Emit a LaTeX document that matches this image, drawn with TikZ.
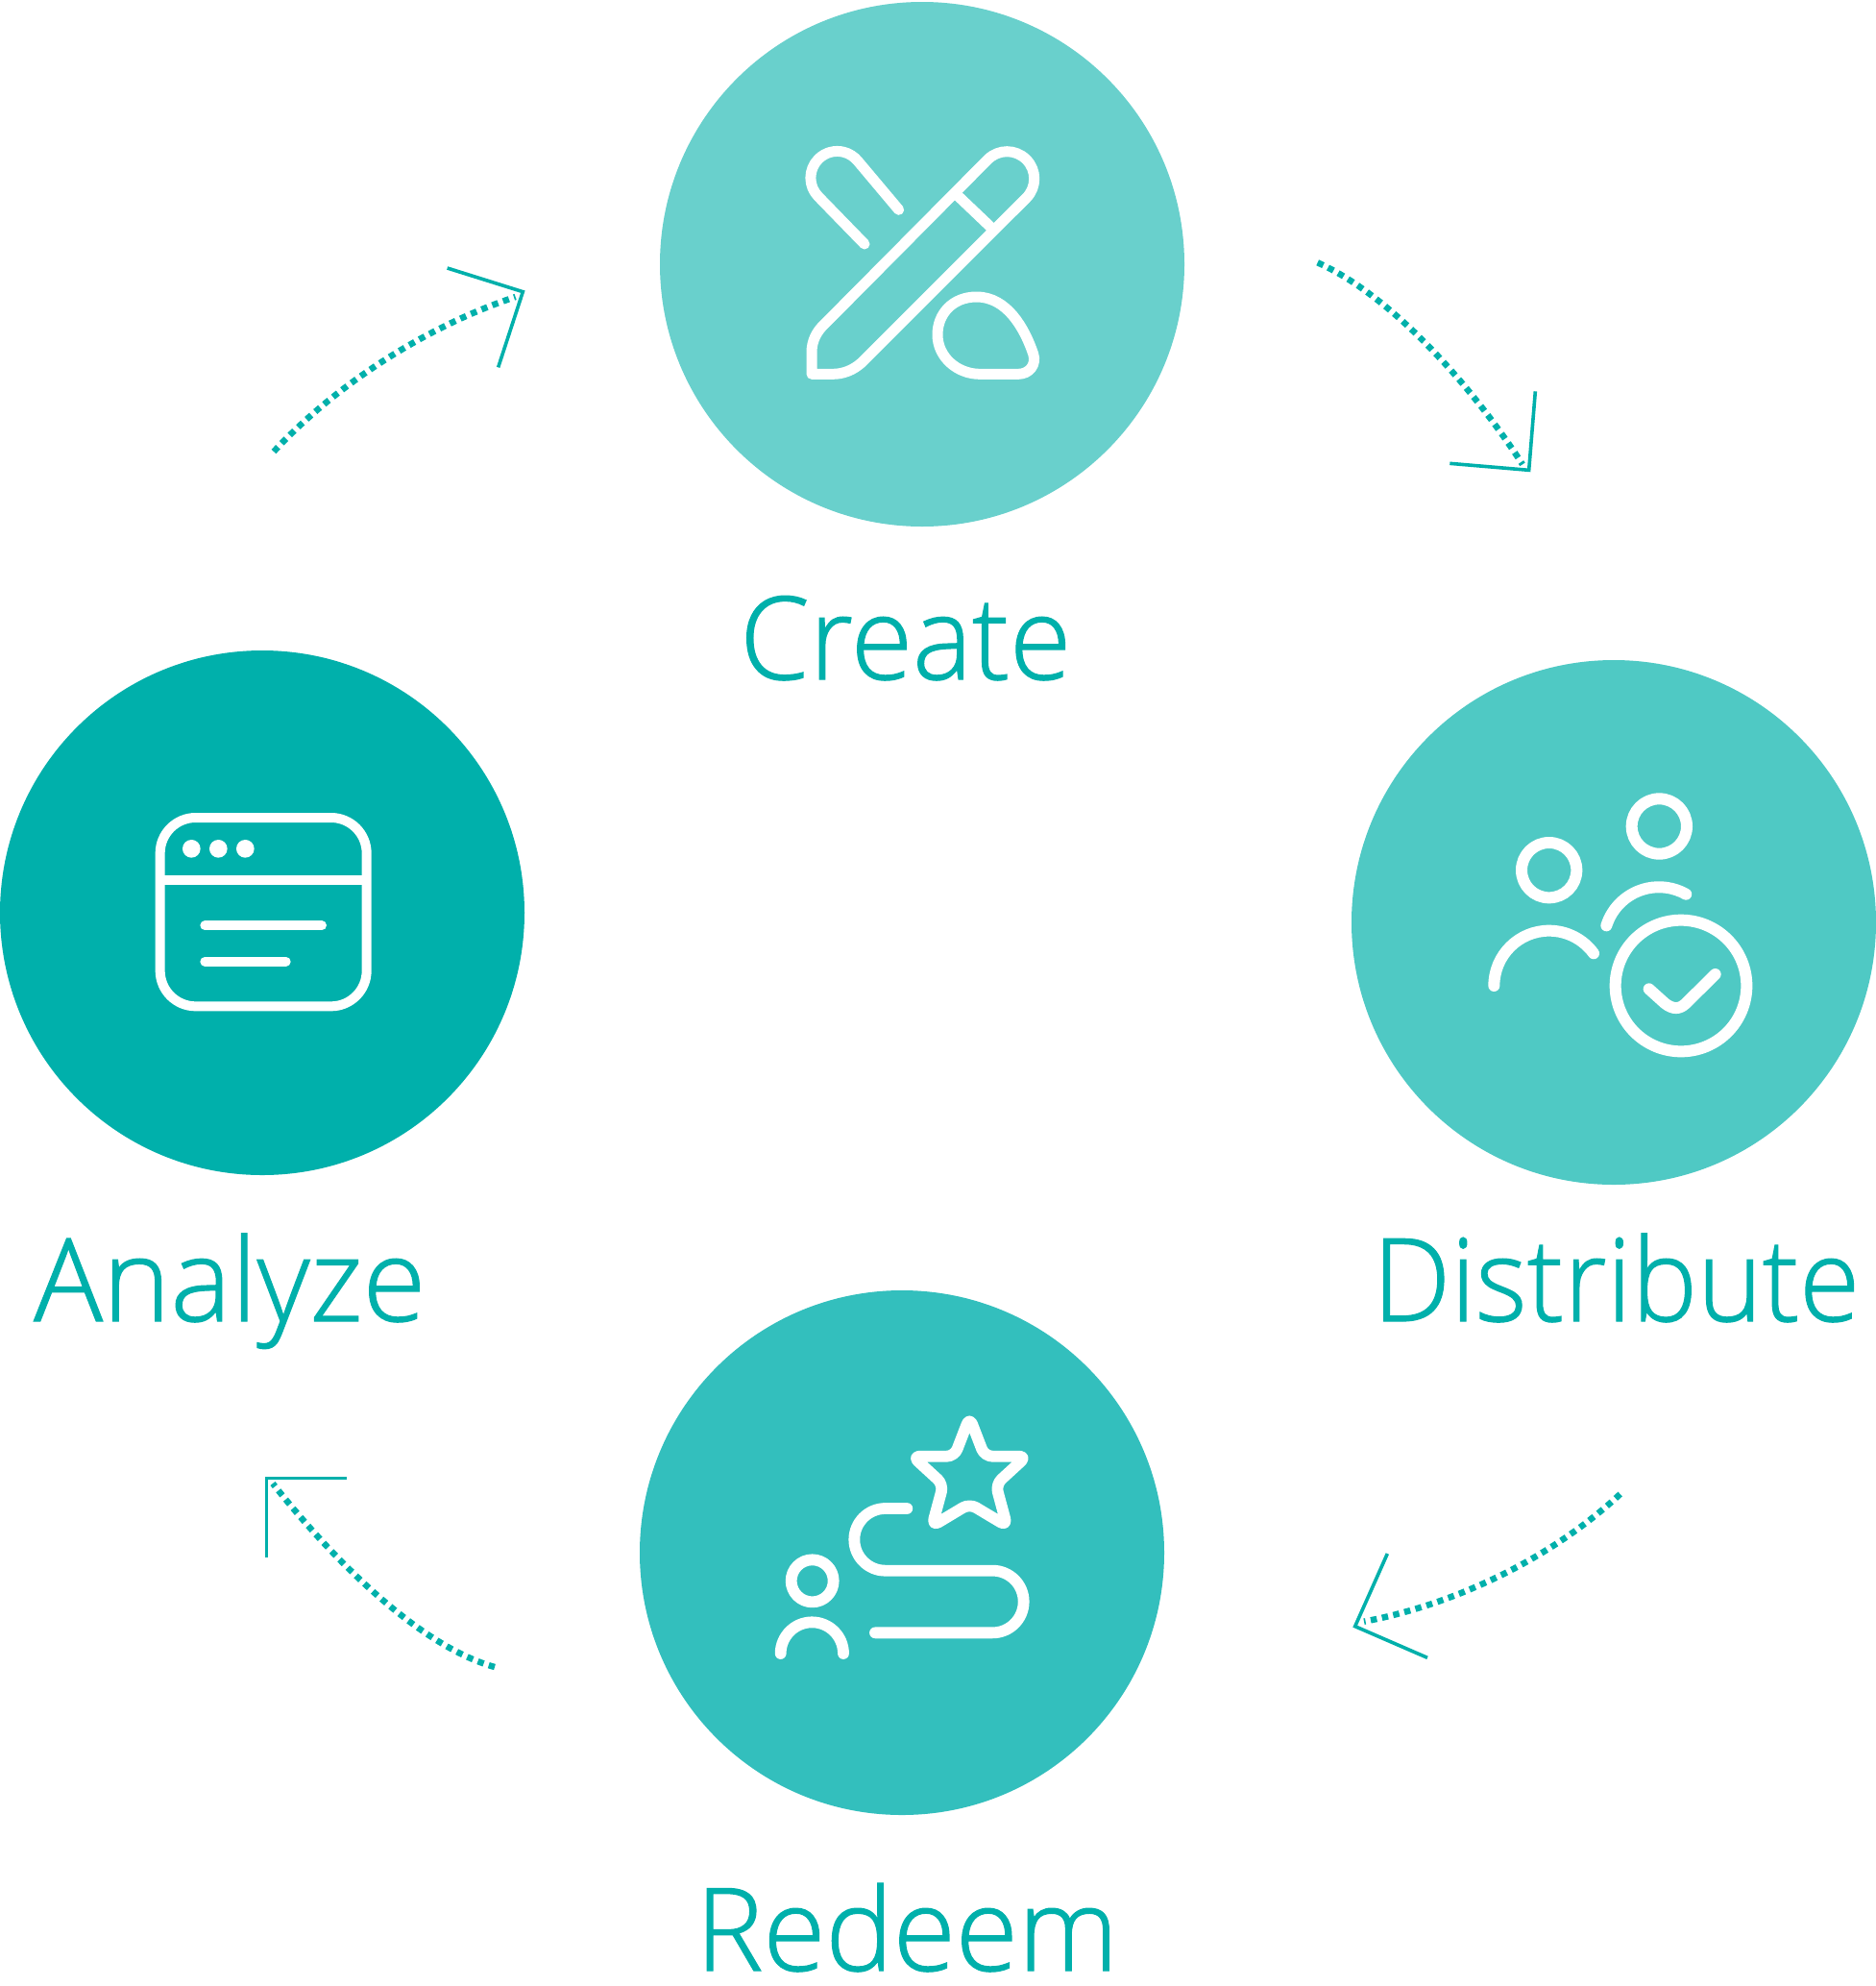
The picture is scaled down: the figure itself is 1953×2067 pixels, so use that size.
\documentclass[tikz,border=0pt]{standalone}
\usepackage{graphicx}
\usepackage{fontspec}
\setmainfont{Open Sans Light}
\definecolor{teal0}{HTML}{00B0AB}
\definecolor{tealA}{HTML}{69D0CC}
\definecolor{tealB}{HTML}{4FC9C4}
\definecolor{tealC}{HTML}{33BFBD}
\newcommand{\fitlabel}[2]{\resizebox{#1pt}{\height}{#2}}
\tikzset{
  disc/.style={circle,minimum size=546pt,inner sep=0pt,draw=none,fill=#1},
  lab/.style={anchor=base west,inner sep=0pt,text=teal0,font=\fontsize{120}{120}\selectfont\addfontfeature{FakeBold=1}},
  ico/.style={draw=white,line width=#1,line cap=round,line join=round},
  dotline/.style={draw=teal0,line width=6.5pt,dash pattern=on 6.5pt off 5.5pt},
  headline/.style={draw=teal0,line width=3.6pt,miter limit=10}
}
\begin{document}
\begin{tikzpicture}[x=1pt,y=-1pt]
\useasboundingbox (0,0) rectangle (1953,2067);
\node[disc=tealA] (create) at (960,275) {};
\node[disc=tealB] (distribute) at (1680,960) {};
\node[disc=tealC] (redeem) at (939,1616) {};
\node[disc=teal0] (analyze) at (273,950) {};
\node[lab] (lcreate) at (770,707) {\fitlabel{345}{Create}};
\node[lab] (ldistribute) at (1429,1375) {\fitlabel{507}{Distribute}};
\node[lab] (lanalyze) at (35,1375) {\fitlabel{408}{Analyze}};
\node[lab] (lredeem) at (724,2051) {\fitlabel{440}{Redeem}};
% Create icon
\begin{scope}[shift={(800,100)},scale=1/3,ico=11pt]
\draw (135,868) -- (135,800) .. controls (135,765) and (150,735) .. (175,712) -- (685,198)
  arc[start angle=225,end angle=405,radius=85]
  -- (290,833) .. controls (265,855) and (235,868) .. (200,868) -- cycle;
\draw (590,310) -- (695,410);
\draw (300,462) -- (156,314) arc[start angle=135,end angle=320,radius=83] -- (407,355);
\draw (660,868) -- (780,868) .. controls (815,868) and (838,838) .. (827,805) .. controls (800,725) and (745,627) .. (650,627)
  .. controls (575,627) and (528,680) .. (528,745) .. controls (528,815) and (590,868) .. (660,868) -- cycle;
\end{scope}
% Distribute icon
\begin{scope}[shift={(1520,800)},scale=1/3,ico=12pt]
\draw (622,180) circle[radius=86];
\draw (278,317) circle[radius=86];
\draw (690,678) circle[radius=205];
\draw (106,678) arc[start angle=180,end angle=324,radius=172];
\draw (457,490) arc[start angle=197.5,end angle=299.5,radius=172];
\draw (590,688) -- (640,733) .. controls (665,752) and (685,752) .. (705,733) -- (797,642);
\end{scope}
% Redeem icon
\begin{scope}[shift={(780,1450)},scale=1/3,ico=11.8pt]
\draw (197,586) circle[radius=66];
\draw (98,813) arc[start angle=180,end angle=360,radius=98];
\draw (493,360) -- (425,360) arc[start angle=270,end angle=90,radius=97] -- (760,554)
  arc[start angle=-90,end angle=90,radius=97] -- (393,748);
\draw[rounded corners=8pt] (688,75) -- (735,197) -- (866,197) -- (770,285) -- (805,415) -- (688,345)
  -- (571,415) -- (606,285) -- (510,197) -- (641,197) -- cycle;
\end{scope}
% Analyze icon
\begin{scope}[shift={(140,820)},scale=1/3,ico=10pt]
\draw[rounded corners=37pt] (80,93) rectangle (725,682);
\draw[line cap=butt] (80,289) -- (725,289);
\fill[white] (178,190) circle[radius=28] (262,190) circle[radius=28] (346,190) circle[radius=28];
\draw (220,430) -- (585,430);
\draw (220,542) -- (473,542);
\end{scope}
% Arrow create -> distribute
\begin{scope}[shift={(1350,250)},scale=1/3]
\coordinate (a1s) at (65,70); \coordinate (a1e) at (705,700);
\coordinate (a1h1) at (478,697); \coordinate (a1h2) at (725,718); \coordinate (a1h3) at (745,472);
\draw[dotline] (a1s) .. controls (280,165) and (530,430) .. (a1e);
\draw[headline] (a1h1) -- (a1h2) -- (a1h3);
\end{scope}
% Arrow distribute -> redeem
\begin{scope}[shift={(1400,1540)},scale=1/3]
\coordinate (a2s) at (860,45); \coordinate (a2e) at (60,443);
\coordinate (a2h1) at (133,231); \coordinate (a2h2) at (32,458); \coordinate (a2h3) at (258,556);
\draw[dotline] (a2s) .. controls (640,250) and (340,390) .. (a2e);
\draw[headline] (a2h1) -- (a2h2) -- (a2h3);
\end{scope}
% Arrow redeem -> analyze
\begin{scope}[shift={(260,1520)},scale=1/3]
\coordinate (a3s) at (765,645); \coordinate (a3e) at (72,72);
\coordinate (a3h1) at (52,302); \coordinate (a3h2) at (52,55); \coordinate (a3h3) at (302,55);
\draw[dotline] (a3s) .. controls (530,580) and (260,310) .. (a3e);
\draw[headline] (a3h1) -- (a3h2) -- (a3h3);
\end{scope}
% Arrow analyze -> create
\begin{scope}[shift={(270,260)},scale=1/3]
\coordinate (a4s) at (45,630); \coordinate (a4e) at (800,147);
\coordinate (a4h1) at (587,57); \coordinate (a4h2) at (823,131); \coordinate (a4h3) at (746,367);
\draw[dotline] (a4s) .. controls (240,420) and (520,240) .. (a4e);
\draw[headline] (a4h1) -- (a4h2) -- (a4h3);
\end{scope}
\end{tikzpicture}
\end{document}
